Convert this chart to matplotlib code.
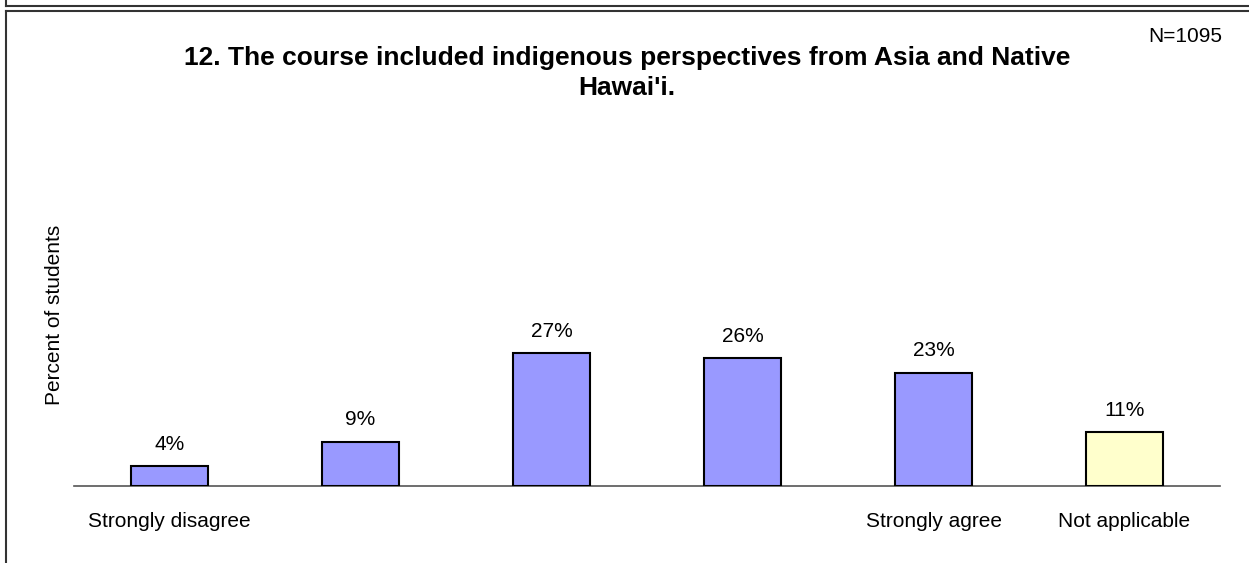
import matplotlib.pyplot as plt
from matplotlib.lines import Line2D

plt.rcParams['font.family'] = ['Liberation Sans', 'DejaVu Sans']

categories = ['Strongly disagree', '', '', '', 'Strongly agree', 'Not applicable']
values = [4, 9, 27, 26, 23, 11]
colors = ['#9999FF', '#9999FF', '#9999FF', '#9999FF', '#9999FF', '#FFFFCC']

W, H = 1249, 563
fig = plt.figure(figsize=(W / 100, H / 100), dpi=100)


def fx(px):
    return px / W


def fy(py):
    return 1 - py / H


# frame lines
frame = dict(color='#333333', lw=1.5, transform=fig.transFigure)
fig.add_artist(Line2D([fx(6), fx(6)], [fy(0), fy(6)], **frame))
fig.add_artist(Line2D([fx(6), 1.0], [fy(6), fy(6)], **frame))
fig.add_artist(Line2D([fx(6), 1.0], [fy(11), fy(11)], **frame))
fig.add_artist(Line2D([fx(6), fx(6)], [fy(11), 0.0], **frame))

ax_left, ax_right = 74, 1220
ax_top, ax_bottom = 190, 486
ax = fig.add_axes([fx(ax_left), fy(ax_bottom), fx(ax_right - ax_left), (ax_bottom - ax_top) / H])

x = range(len(values))
bars = ax.bar(x, values, width=0.4, color=colors, edgecolor='black', linewidth=1.5, zorder=3)
for xi, v in zip(x, values):
    ax.text(xi, v + 4.4, f'{v}%', ha='center', va='center', fontsize=15)

ax.set_xlim(-0.5, len(values) - 0.5)
ax.set_ylim(0, 60)
for s in ['top', 'right', 'left']:
    ax.spines[s].set_visible(False)
ax.spines['bottom'].set_color('#555555')
ax.spines['bottom'].set_linewidth(1.2)
ax.set_yticks([])
ax.set_xticks(list(x))
ax.set_xticklabels(categories, fontsize=15)
ax.tick_params(axis='x', length=0, pad=18.5)

fig.text(fx(55), fy(315), 'Percent of students', rotation=90, ha='center', va='center', fontsize=15)
fig.text(fx(627), fy(73), "12. The course included indigenous perspectives from Asia and Native\nHawai'i.",
         ha='center', va='center', fontsize=19, fontweight='bold', linespacing=1.32)
fig.text(fx(1185), fy(36), 'N=1095', ha='center', va='center', fontsize=15)

fig.savefig('out.png', dpi=100)
